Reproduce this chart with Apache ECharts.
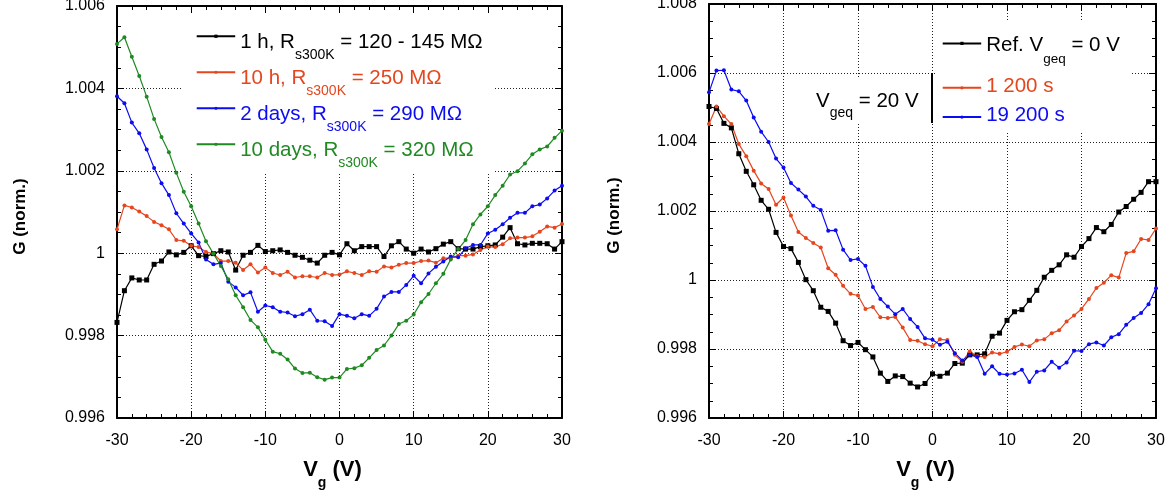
<!DOCTYPE html>
<html><head><meta charset="utf-8">
<script src="https://cdn.jsdelivr.net/npm/echarts@6/dist/echarts.min.js"></script>
<style>html,body{margin:0;padding:0;background:#fff}#c{width:1170px;height:493px}</style>
</head><body><div id="c"></div>
<script>
// ---- data ----
const vg = [-30,-29,-28,-27,-26,-25,-24,-23,-22,-21,-20,-19,-18,-17,-16,-15,-14,-13,-12,-11,-10,-9,-8,-7,-6,-5,-4,-3,-2,-1,0,1,2,3,4,5,6,7,8,9,10,11,12,13,14,15,16,17,18,19,20,21,22,23,24,25,26,27,28,29,30];

// left panel
const g1h = [0.99832,0.99909,0.99940,0.99935,0.99935,0.99973,0.99981,1.00003,0.99996,1.00002,1.00018,0.99994,0.99992,0.99999,1.00006,1.00003,0.99959,0.99995,1.00002,1.00019,1.00004,1.00006,1.00008,1.00002,0.99995,0.99990,0.99983,0.99976,0.99995,1.00002,0.99996,1.00023,1.00006,1.00016,1.00016,1.00016,0.99992,1.00018,1.00028,1.00010,1.00000,1.00010,1.00003,1.00011,1.00022,1.00028,1.00011,1.00010,1.00010,1.00016,1.00018,1.00020,1.00039,1.00062,1.00023,1.00020,1.00024,1.00024,1.00023,1.00010,1.00028];
const g10h = [1.00058,1.00116,1.00111,1.00101,1.00090,1.00076,1.00068,1.00058,1.00032,1.00030,1.00018,1.00015,1.00003,0.99999,0.99981,0.99981,0.99977,0.99959,0.99973,0.99953,0.99965,0.99952,0.99947,0.99955,0.99941,0.99944,0.99944,0.99941,0.99952,0.99947,0.99948,0.99956,0.99952,0.99947,0.99956,0.99955,0.99968,0.99965,0.99972,0.99976,0.99976,0.99981,0.99982,0.99977,0.99988,0.99988,0.99994,0.99994,0.99997,1.00008,1.00016,1.00015,1.00022,1.00036,1.00038,1.00038,1.00041,1.00052,1.00065,1.00062,1.00071];
const g2d = [1.00381,1.00364,1.00317,1.00291,1.00252,1.00207,1.00170,1.00141,1.00097,1.00072,1.00048,1.00026,0.99985,0.99973,0.99976,0.99931,0.99917,0.99898,0.99905,0.99858,0.99873,0.99869,0.99858,0.99856,0.99847,0.99852,0.99863,0.99836,0.99835,0.99823,0.99852,0.99848,0.99842,0.99852,0.99848,0.99865,0.99895,0.99906,0.99906,0.99923,0.99945,0.99927,0.99951,0.99967,0.99980,0.99992,0.99990,1.00012,1.00020,1.00020,1.00048,1.00057,1.00070,1.00086,1.00098,1.00098,1.00114,1.00118,1.00133,1.00152,1.00164];
const g10d = [1.00508,1.00524,1.00477,1.00430,1.00380,1.00326,1.00282,1.00245,1.00195,1.00149,1.00114,1.00072,1.00029,0.99999,0.99969,0.99937,0.99898,0.99869,0.99838,0.99820,0.99790,0.99761,0.99756,0.99742,0.99720,0.99709,0.99710,0.99699,0.99693,0.99698,0.99698,0.99719,0.99721,0.99728,0.99746,0.99765,0.99776,0.99800,0.99828,0.99836,0.99851,0.99881,0.99901,0.99927,0.99950,0.99985,1.00010,1.00032,1.00070,1.00094,1.00114,1.00141,1.00164,1.00191,1.00199,1.00218,1.00240,1.00252,1.00259,1.00280,1.00297];

// right panel
const gRef = [1.00503,1.00497,1.00454,1.00441,1.00366,1.00315,1.00276,1.00231,1.00205,1.00138,1.00097,1.00091,1.00051,1.00001,0.99969,0.99921,0.99909,0.99875,0.99824,0.99810,0.99819,0.99798,0.99777,0.99730,0.99706,0.99722,0.99720,0.99701,0.99690,0.99700,0.99728,0.99721,0.99730,0.99758,0.99759,0.99783,0.99783,0.99786,0.99837,0.99846,0.99883,0.99908,0.99914,0.99941,0.99970,1.00008,1.00028,1.00044,1.00073,1.00066,1.00097,1.00120,1.00152,1.00140,1.00161,1.00197,1.00213,1.00234,1.00254,1.00285,1.00285];
const g1200 = [1.00452,1.00503,1.00475,1.00452,1.00394,1.00359,1.00317,1.00280,1.00264,1.00218,1.00239,1.00187,1.00139,1.00122,1.00107,1.00094,1.00034,1.00015,0.99983,0.99960,0.99955,0.99916,0.99922,0.99892,0.99890,0.99893,0.99862,0.99826,0.99824,0.99814,0.99808,0.99828,0.99826,0.99783,0.99763,0.99793,0.99779,0.99777,0.99790,0.99786,0.99792,0.99806,0.99813,0.99808,0.99825,0.99828,0.99846,0.99854,0.99880,0.99897,0.99916,0.99945,0.99977,0.99992,1.00014,1.00007,1.00078,1.00083,1.00119,1.00116,1.00149];
const g19200 = [1.00544,1.00607,1.00608,1.00552,1.00547,1.00520,1.00471,1.00430,1.00400,1.00352,1.00326,1.00281,1.00262,1.00242,1.00215,1.00203,1.00143,1.00144,1.00088,1.00058,1.00061,1.00041,0.99980,0.99945,0.99923,0.99901,0.99916,0.99887,0.99864,0.99831,0.99827,0.99812,0.99821,0.99788,0.99767,0.99783,0.99777,0.99728,0.99750,0.99728,0.99726,0.99729,0.99740,0.99704,0.99734,0.99738,0.99763,0.99746,0.99761,0.99795,0.99794,0.99814,0.99819,0.99810,0.99834,0.99843,0.99870,0.99890,0.99904,0.99930,0.99976];

// labels
const namesLeft = ['1 h, R_{s300K} = 120 - 145 MΩ','10 h, R_{s300K} = 250 MΩ','2 days, R_{s300K} = 290 MΩ','10 days, R_{s300K} = 320 MΩ'];
const namesRight = ['Ref. V_{geq} = 0 V','1 200 s','19 200 s'];
const vgeqLabel = '{a|V}{s|geq}{a| = 20 V}';
const xTitle = '{a|V}{s|g}{a| (V)}';
const yTitle = 'G (norm.)';

// ---- styling ----
const FONT = '"Liberation Sans", Arial, Helvetica, sans-serif';
const C_BLACK = '#000000', C_RED = '#e5461e', C_BLUE = '#0c0cf2', C_GREEN = '#1f8a22';

function pairs(v){ return vg.map((x,i)=>[x, v[i]]); }
function richName(name){
  const m = name.match(/^(.*?)_\{(.*?)\}(.*)$/);
  return m ? '{a|'+m[1]+'}{s|'+m[2]+'}{a|'+m[3]+'}' : '{a|'+name+'}';
}

function xAxes(gi){
  return [{
    type:'value', gridIndex:gi, min:-30, max:30, interval:10, position:'bottom',
    axisLine:{show:true, onZero:false, lineStyle:{color:'#000', width:2}},
    axisTick:{show:true, inside:true, length:7, lineStyle:{color:'#000', width:1}},
    minorTick:{show:true, splitNumber:5, length:4, lineStyle:{color:'#000', width:1}},
    axisLabel:{color:'#000', fontSize:16, fontFamily:FONT, margin:15},
    splitLine:{show:true, lineStyle:{color:'#222', type:[1,2], width:1}},
    name:xTitle, nameLocation:'middle', nameGap:41, nameMoveOverlap:false,
    nameTextStyle:{padding:[0,14,0,0], rich:{
      a:{fontSize:22, fontWeight:'bold', fontFamily:FONT, color:'#000', lineHeight:26, verticalAlign:'top'},
      s:{fontSize:14, fontWeight:'bold', fontFamily:FONT, color:'#000', lineHeight:14, padding:[16.7,0,0,0], verticalAlign:'top'}
    }}
  },{
    type:'value', gridIndex:gi, min:-30, max:30, interval:10, position:'top',
    axisLine:{show:true, onZero:false, lineStyle:{color:'#000', width:2}},
    axisTick:{show:true, inside:true, length:7, lineStyle:{color:'#000', width:1}},
    minorTick:{show:true, splitNumber:5, length:4, lineStyle:{color:'#000', width:1}},
    axisLabel:{show:false}, splitLine:{show:false}
  }];
}
function yAxes(gi, min, max, gap){
  return [{
    type:'value', gridIndex:gi, min:min, max:max, interval:0.002, position:'left',
    axisLine:{show:true, onZero:false, lineStyle:{color:'#000', width:2}},
    axisTick:{show:true, inside:true, length:7, lineStyle:{color:'#000', width:1}},
    minorTick:{show:true, splitNumber:4, length:4, lineStyle:{color:'#000', width:1}},
    axisLabel:{color:'#000', fontSize:16, fontFamily:FONT, margin:12},
    splitLine:{show:true, lineStyle:{color:'#222', type:[1,2], width:1}},
    name:yTitle, nameLocation:'middle', nameGap:gap, nameMoveOverlap:false,
    nameTextStyle:{fontSize:17, fontWeight:'bold', fontFamily:FONT, color:'#000', padding:[0,9,0,0]}
  },{
    type:'value', gridIndex:gi, min:min, max:max, interval:0.002, position:'right',
    axisLine:{show:true, onZero:false, lineStyle:{color:'#000', width:2}},
    axisTick:{show:true, inside:true, length:7, lineStyle:{color:'#000', width:1}},
    minorTick:{show:true, splitNumber:4, length:4, lineStyle:{color:'#000', width:1}},
    axisLabel:{show:false}, splitLine:{show:false}
  }];
}
function ser(name, data, color, xi, yi, isRect){
  return {
    type:'line', name:name, data:pairs(data), xAxisIndex:xi, yAxisIndex:yi,
    symbol:isRect?'rect':'circle', symbolSize:isRect?5:4, showSymbol:true,
    lineStyle:{color:color, width:1.2}, itemStyle:{color:color},
    emphasis:{disabled:true}, animation:false, z:3
  };
}
function leg(name, left, top, color, main, sub, P, T){
  return {
    show:true, data:[name], left:left, top:top, orient:'vertical', padding:0,
    itemWidth:38.5, itemHeight:4, itemGap:0, selectedMode:false, formatter:richName,
    textStyle:{color:color, fontFamily:FONT, fontSize:main, padding:[T,0,0,0], rich:{
      a:{fontSize:main, lineHeight:main+4, verticalAlign:'top', color:color, fontFamily:FONT},
      s:{fontSize:sub, lineHeight:sub, padding:[P,0,0,0], verticalAlign:'top', color:color, fontFamily:FONT}
    }}
  };
}

const chart = echarts.init(document.getElementById('c'), null, {renderer:'canvas'});
const option = {
  backgroundColor:'#fff',
  animation:false,
  textStyle:{fontFamily:FONT},
  grid:[
    {left:117, top:6, width:445, height:412, outerBoundsMode:'none'},
    {left:709, top:4, width:447, height:414, outerBoundsMode:'none'}
  ],
  xAxis:[...xAxes(0), ...xAxes(1)],
  yAxis:[...yAxes(0, 0.996, 1.006, 88), ...yAxes(1, 0.996, 1.008, 86)],
  legend:[
    leg(namesLeft[0], 195.7, 31.7, C_BLACK, 20.5, 14, 16, 15.4),
    leg(namesLeft[1], 195.7, 67.7, C_RED, 20.5, 14, 16, 15.4),
    leg(namesLeft[2], 195.7, 103.7, C_BLUE, 20.5, 14, 16, 15.4),
    leg(namesLeft[3], 195.7, 139.7, C_GREEN, 20.5, 14, 16, 15.4),
    leg(namesRight[0], 941.7, 34.9, C_BLACK, 20.5, 13.5, 16.9, 7.5),
    leg(namesRight[1], 941.7, 76.1, C_RED, 20.5, 13.5, 16.9, 1),
    leg(namesRight[2], 941.7, 105.3, C_BLUE, 20.5, 13.5, 16.9, 1)
  ],
  graphic:{elements:[
    {type:'rect', silent:true, z:1, shape:{x:183, y:14, width:312, height:160}, style:{fill:'#fff'}},
    {type:'rect', silent:true, z:1, shape:{x:935, y:20, width:195, height:113}, style:{fill:'#fff'}},
    {type:'rect', silent:true, z:1, shape:{x:808, y:77, width:118, height:47}, style:{fill:'#fff'}},
    {type:'text', silent:true, z:5, x:816, y:90.5, style:{text:vgeqLabel, verticalAlign:'top', fill:'#000', rich:{
      a:{fontSize:20.5, lineHeight:24, verticalAlign:'top', fill:'#000', fontFamily:FONT},
      s:{fontSize:14, lineHeight:14, padding:[15.3,0,0,0], verticalAlign:'top', fill:'#000', fontFamily:FONT}
    }}},
    {type:'line', silent:true, z:5, shape:{x1:932, y1:73, x2:932, y2:123}, style:{stroke:'#000', lineWidth:2}}
  ]},
  series:[
    ser(namesLeft[0], g1h, C_BLACK, 0, 0, true),
    ser(namesLeft[1], g10h, C_RED, 0, 0, false),
    ser(namesLeft[2], g2d, C_BLUE, 0, 0, false),
    ser(namesLeft[3], g10d, C_GREEN, 0, 0, false),
    ser(namesRight[0], gRef, C_BLACK, 2, 2, true),
    ser(namesRight[1], g1200, C_RED, 2, 2, false),
    ser(namesRight[2], g19200, C_BLUE, 2, 2, false)
  ]
};
chart.setOption(option);
</script>
</body></html>
